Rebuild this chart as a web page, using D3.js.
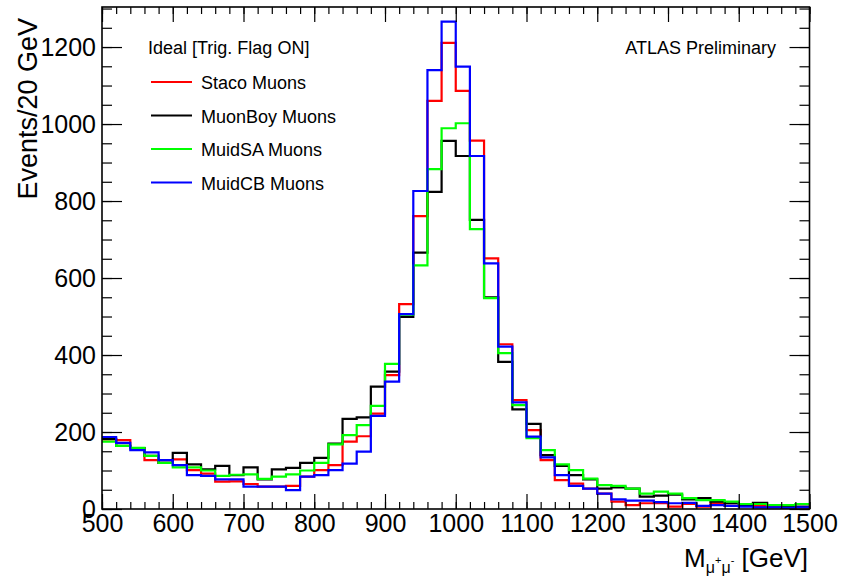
<!DOCTYPE html>
<html>
<head>
<meta charset="utf-8">
<script src="https://cdn.jsdelivr.net/npm/d3@7"></script>
<style>
  html, body { margin: 0; padding: 0; background: #fff; }
  svg { display: block; font-family: "Liberation Sans", Arial, Helvetica, sans-serif; }
</style>
</head>
<body>
<svg id="chart" width="841" height="581"></svg>
<script>
// ---- data (Events / 20 GeV, bins from 500 to 1500 GeV) ----
const binStart = 500;
const binWidth = 20;
const xTickLabels = [500, 600, 700, 800, 900, 1000, 1100, 1200, 1300, 1400, 1500];
const yTickLabels = [0, 200, 400, 600, 800, 1000, 1200];

const stacoMuons = [
  181,179,158,127,120,129,101,92,71,72,
  65,58,58,60,84,101,114,175,189,248,
  348,532,761,1060,1211,1086,957,651,428,283,
  205,127,75,66,53,40,19,10,15,15,
  6,13,6,15,8,8,8,6,6,4
];
const muonBoyMuons = [
  182,164,158,138,120,146,116,103,112,88,
  108,77,103,107,120,133,170,234,238,318,
  357,499,666,824,956,917,751,550,382,259,
  221,140,112,88,77,53,56,53,32,35,
  37,25,28,19,15,10,16,10,6,6
];
const muidSAMuons = [
  175,164,159,138,120,108,108,100,86,89,
  90,78,84,90,100,120,168,192,218,268,
  377,505,633,883,989,1002,727,548,405,270,
  184,153,116,101,79,62,60,53,40,45,
  40,28,23,23,19,13,13,10,10,13
];
const muidCBMuons = [
  187,172,153,147,127,114,88,86,77,77,
  58,58,58,49,84,88,101,118,149,242,
  331,506,826,1140,1266,1149,917,638,422,277,
  188,134,88,60,53,40,25,22,22,18,
  15,16,8,10,8,6,4,4,3,4
];

const seriesNames = ["Staco Muons", "MuonBoy Muons", "MuidSA Muons", "MuidCB Muons"];
const seriesColors = ["#ff0000", "#000000", "#00ff00", "#0000ff"];
const seriesValues = [stacoMuons, muonBoyMuons, muidSAMuons, muidCBMuons];
const legendHeader = "Ideal [Trig. Flag ON]";
const atlasLabel = "ATLAS Preliminary";

// ---- layout ----
const svg = d3.select("#chart");
const L = 102, R = 809.5, T = 7, B = 509;
const x = d3.scaleLinear().domain([500, 1500]).range([L, R]);
const y = d3.scaleLinear().domain([0, 1304]).range([B, T]);

svg.append("rect").attr("width", 841).attr("height", 581).attr("fill", "#fff");

// ---- histograms ----
const line = d3.line().x(d => x(d[0])).y(d => y(d[1]));
seriesValues.forEach((vals, si) => {
  const pts = [];
  vals.forEach((v, i) => {
    const e0 = binStart + i * binWidth;
    pts.push([e0, v]);
    pts.push([e0 + binWidth, v]);
  });
  svg.append("path")
    .attr("d", line(pts))
    .attr("fill", "none")
    .attr("stroke", seriesColors[si])
    .attr("stroke-width", 2.2)
    .attr("stroke-linejoin", "miter");
});

// ---- axes (ROOT style, ticks inside on all four sides) ----
const xMinor = d3.range(500, 1501, 20);
const yMinor = d3.range(0, 1304, 50);

function styleAxis(g) {
  g.select(".domain").remove();
  g.selectAll("line").attr("stroke", "#000").attr("stroke-width", 1.2);
  g.selectAll("text").attr("fill", "#000").attr("font-size", 25)
    .attr("font-family", '"Liberation Sans", Arial, Helvetica, sans-serif');
}

// bottom
svg.append("g").attr("transform", `translate(0,${B})`)
  .call(d3.axisBottom(x).tickValues(xMinor).tickSize(-7).tickFormat(""))
  .call(styleAxis);
svg.append("g").attr("transform", `translate(0,${B})`)
  .call(d3.axisBottom(x).tickValues(xTickLabels).tickSize(-15).tickPadding(5).tickFormat(d3.format("d")))
  .call(styleAxis);
// top
svg.append("g").attr("transform", `translate(0,${T})`)
  .call(d3.axisTop(x).tickValues(xMinor).tickSize(-7).tickFormat(""))
  .call(styleAxis);
svg.append("g").attr("transform", `translate(0,${T})`)
  .call(d3.axisTop(x).tickValues(xTickLabels).tickSize(-15).tickFormat(""))
  .call(styleAxis);
// left
svg.append("g").attr("transform", `translate(${L},0)`)
  .call(d3.axisLeft(y).tickValues(yMinor).tickSize(-10).tickFormat(""))
  .call(styleAxis);
svg.append("g").attr("transform", `translate(${L},0)`)
  .call(d3.axisLeft(y).tickValues(yTickLabels).tickSize(-20).tickPadding(6).tickFormat(d3.format("d")))
  .call(styleAxis);
// right
svg.append("g").attr("transform", `translate(${R},0)`)
  .call(d3.axisRight(y).tickValues(yMinor).tickSize(-10).tickFormat(""))
  .call(styleAxis);
svg.append("g").attr("transform", `translate(${R},0)`)
  .call(d3.axisRight(y).tickValues(yTickLabels).tickSize(-20).tickFormat(""))
  .call(styleAxis);

// frame
svg.append("rect")
  .attr("x", L).attr("y", T).attr("width", R - L).attr("height", B - T)
  .attr("fill", "none").attr("stroke", "#000").attr("stroke-width", 1.6);

// ---- axis titles ----
svg.append("text")
  .attr("transform", `translate(37,${T + 11}) rotate(-90)`)
  .attr("text-anchor", "end")
  .attr("font-size", 27)
  .text("Events/20 GeV");

const xt = svg.append("text")
  .attr("x", 808).attr("y", 567)
  .attr("text-anchor", "end")
  .attr("font-size", 26);
xt.append("tspan").text("M");
xt.append("tspan").attr("font-size", 16).attr("dy", 6).text("μ");
xt.append("tspan").attr("font-size", 11).attr("dy", -9).text("+");
xt.append("tspan").attr("font-size", 16).attr("dy", 9).text("μ");
xt.append("tspan").attr("font-size", 11).attr("dy", -9).text("-");
xt.append("tspan").attr("dy", 3).text(" [GeV]");

// ---- legend ----
svg.append("text").attr("x", 148).attr("y", 54).attr("font-size", 18).text(legendHeader);
seriesNames.forEach((name, i) => {
  const ly = 82 + i * 33.5;
  svg.append("line").attr("x1", 151).attr("x2", 192).attr("y1", ly).attr("y2", ly)
    .attr("stroke", seriesColors[i]).attr("stroke-width", 2.2);
  svg.append("text").attr("x", 201).attr("y", ly + 7).attr("font-size", 18).text(name);
});

svg.append("text").attr("x", 776).attr("y", 54).attr("text-anchor", "end")
  .attr("font-size", 18).text(atlasLabel);
</script>
</body>
</html>
